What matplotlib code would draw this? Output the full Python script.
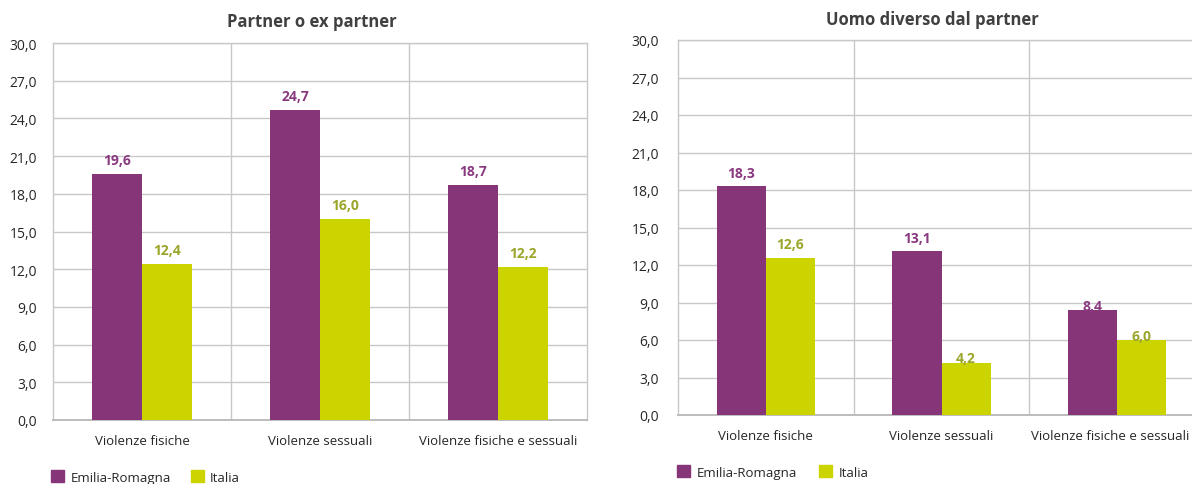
import matplotlib
matplotlib.use("Agg")
import matplotlib.pyplot as plt
import numpy as np
from matplotlib.patches import Patch
from matplotlib.transforms import ScaledTranslation

categories = ["Violenze fisiche", "Violenze sessuali", "Violenze fisiche e sessuali"]
series_names = ["Emilia-Romagna", "Italia"]
partner_er = [19.6, 24.7, 18.7]
partner_it = [12.4, 16.0, 12.2]
altro_er = [18.3, 13.1, 8.4]
altro_it = [12.6, 4.2, 6.0]
titles = ["Partner o ex partner", "Uomo diverso dal partner"]
yticks = [0, 3, 6, 9, 12, 15, 18, 21, 24, 27, 30]

plt.rcParams['font.family'] = ['Open Sans', 'DejaVu Sans']

PURPLE = "#853578"
GREEN = "#CCD400"
PURPLE_LBL = "#8A3A80"
GREEN_LBL = "#9AA52A"
GRID = "#C8C8C8"
TXT = "#262626"

W, H = 1192, 485
fig = plt.figure(figsize=(W/100, H/100), dpi=100)
ax1 = fig.add_axes([53/W, 1-421/H, (587-53)/W, (421-44)/H])
ax2 = fig.add_axes([678/W, 1-416/H, (1205-678)/W, (416-41)/H])

def draw(ax, er, it, title, title_x, title_y, label_offsets, ypad):
    x = np.arange(len(categories))
    w = 0.28
    b1 = ax.bar(x - w/2, er, w, color=PURPLE, zorder=3)
    b2 = ax.bar(x + w/2, it, w, color=GREEN, zorder=3)
    for i, (r1, r2) in enumerate(zip(b1, b2)):
        off1, off2 = label_offsets[i]
        ax.annotate(f"{er[i]:.1f}".replace(".", ","), (r1.get_x() + r1.get_width()/2, er[i]),
                    xytext=(0, off1), textcoords="offset points", ha="center", va="baseline",
                    fontsize=10, fontweight="bold", color=PURPLE_LBL, zorder=4)
        ax.annotate(f"{it[i]:.1f}".replace(".", ","), (r2.get_x() + r2.get_width()/2, it[i]),
                    xytext=(0, off2), textcoords="offset points", ha="center", va="baseline",
                    fontsize=10, fontweight="bold", color=GREEN_LBL, zorder=4)
    ax.set_xlim(-0.5, 2.5)
    ax.set_ylim(0, 30)
    ax.set_yticks(yticks)
    ax.set_yticklabels([f"{v:.1f}".replace(".", ",") for v in yticks], fontsize=10, color=TXT)
    ax.set_xticks(x)
    ax.set_xticklabels(categories, fontsize=9.5, color=TXT)
    ax.set_xticks([0.5, 1.5], minor=True)
    ax.tick_params(axis="both", which="both", length=0)
    ax.tick_params(axis="x", pad=10)
    ax.tick_params(axis="y", pad=ypad)
    ax.yaxis.grid(True, color=GRID, linewidth=1, zorder=0)
    ax.xaxis.grid(True, which="minor", color=GRID, linewidth=1, zorder=0)
    for s in ["top", "right", "left"]:
        ax.spines[s].set_color(GRID)
        ax.spines[s].set_linewidth(1)
    ax.spines["bottom"].set_color("#B8B8B8")
    ax.spines["bottom"].set_linewidth(1.3)
    fig.text(title_x, title_y, title, ha="center", va="center", fontsize=12,
             fontweight="bold", color="#404040")

draw(ax1, partner_er, partner_it, titles[0], 312/W, 1-22/H,
     [(7, 7), (7, 7), (7, 7)], 11.5)
draw(ax2, altro_er, altro_it, titles[1], 932/W, 1-20/H,
     [(7, 7), (7, 0), (0, 0)], 13.5)

# shift last category label of right panel left so it stays inside the figure
lbl = ax2.get_xticklabels()[2]
lbl.set_transform(lbl.get_transform() + ScaledTranslation(-7/100, 0, fig.dpi_scale_trans))

handles = [Patch(color=PURPLE), Patch(color=GREEN)]
fig.legend(handles, series_names, loc="center left", bbox_to_anchor=(46/W, 1-478/H),
           ncol=2, frameon=False, fontsize=9.5, handlelength=1.0, handleheight=1.0,
           handletextpad=0.45, columnspacing=1.5, labelcolor=TXT, borderaxespad=0)
fig.legend(handles, series_names, loc="center left", bbox_to_anchor=(672/W, 1-473/H),
           ncol=2, frameon=False, fontsize=9.5, handlelength=1.0, handleheight=1.0,
           handletextpad=0.45, columnspacing=1.7, labelcolor=TXT, borderaxespad=0)

fig.savefig("out.png", dpi=100)
